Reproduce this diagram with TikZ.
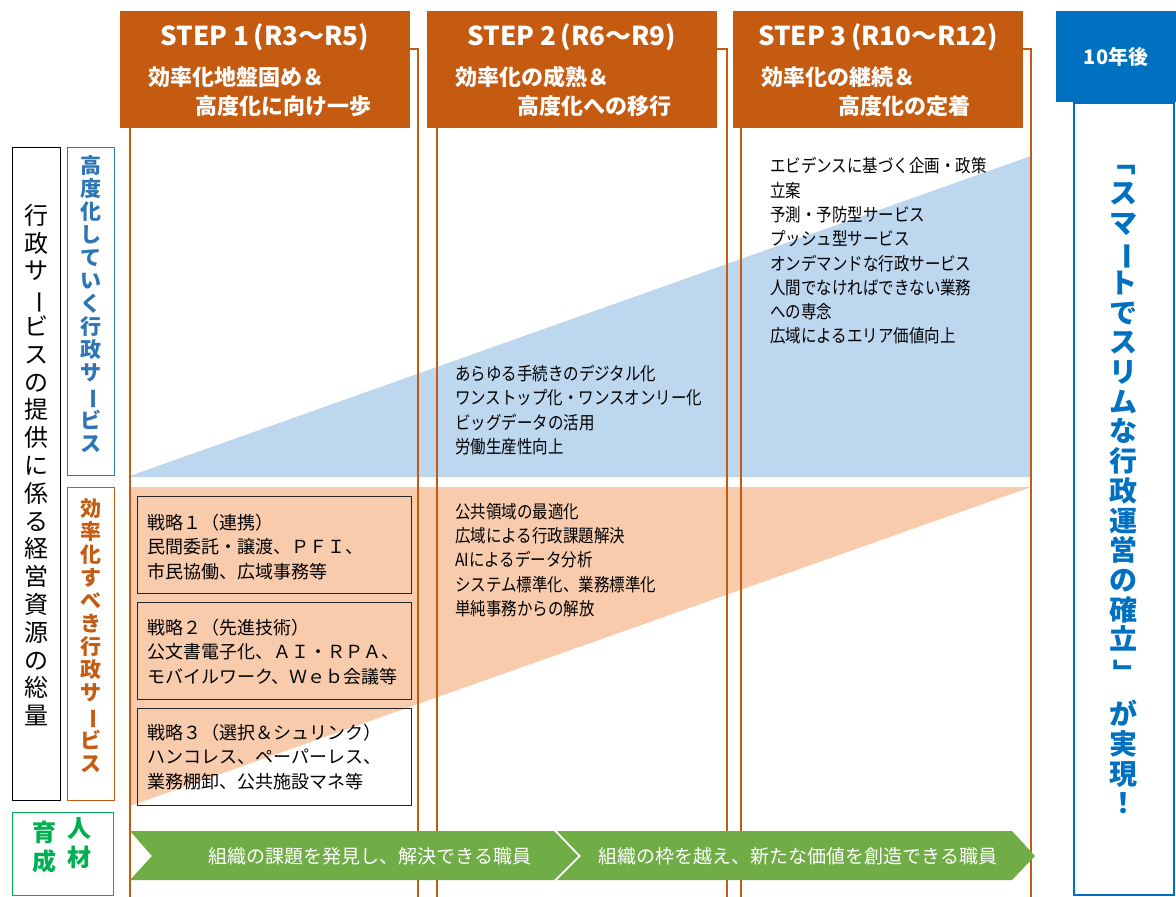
\documentclass[tikz,border=0pt]{standalone}
\usepackage{fontspec}
\usepackage{graphicx}
\setmainfont{Noto Sans CJK JP}
\newfontfamily\narrowjp{Noto Sans CJK JP}[FakeStretch=0.86]

\definecolor{steporange}{HTML}{C55A11}
\definecolor{lightorange}{HTML}{F8CBAD}
\definecolor{lightblue}{HTML}{BDD7EE}
\definecolor{midblue}{HTML}{2E75B6}
\definecolor{darkblue}{HTML}{0070C0}
\definecolor{arrowgreen}{HTML}{70AD47}
\definecolor{brightgreen}{HTML}{00B050}

% vertical forms for stacked text
\newcommand{\vbar}{\rotatebox[origin=c]{-90}{ー}}
\newcommand{\vopen}{\rotatebox[origin=c]{-90}{「}}
\newcommand{\vclose}{\rotatebox[origin=c]{-90}{」}}

\begin{document}
\begin{tikzpicture}[x=1pt,y=-1pt,
  stephead/.style={fill=steporange,minimum width=290,minimum height=117,anchor=north west,inner sep=0},
  steptitle/.style={text=white,font=\bfseries\fontsize{26}{28}\selectfont,inner sep=0},
  stepsub/.style={text=white,font=\bfseries\fontsize{22}{24}\selectfont,inner sep=0,anchor=west},
  sidebox/.style={draw=#1,line width=1.4,anchor=north west,inner sep=0},
  stratbox/.style={draw=black!85,line width=1.3,minimum width=274,minimum height=97,anchor=north west,inner sep=0},
  strattext/.style={align=left,anchor=west,inner sep=0,font=\fontsize{18}{24.5}\selectfont},
  itemtext/.style={align=left,anchor=west,inner sep=0,font=\narrowjp\fontsize{18}{24.3}\selectfont},
  bandtext/.style={text=white,inner sep=0,font=\fontsize{19}{21}\selectfont}]
\useasboundingbox (0,0) rectangle (1176,897);

% shaded areas
\fill[lightblue] (127,477) -- (1031,156) -- (1031,477) -- cycle;
\fill[lightorange] (130,487) -- (1031,487) -- (130,806) -- cycle;

% columns
\foreach \xl/\xr in {130/418, 437/727, 741/1031}
  \draw[steporange,line width=1.2] (\xl,897) -- (\xl,49) -- (\xr,49) -- (\xr,897);

% step headers
\node[stephead] (step1) at (120,11) {};
\node[stephead] (step2) at (427,11) {};
\node[stephead] (step3) at (733,11) {};
\node[steptitle] (title1) at (265,37) {STEP 1\,(R3～R5)};
\node[steptitle] (title2) at (572,37) {STEP 2\,(R6～R9)};
\node[steptitle] (title3) at (878,37) {STEP 3\,(R10～R12)};
\node[stepsub] (suba1) at (148,77) {効率化地盤固め＆};
\node[stepsub] (subb1) at (195,106) {高度化に向け一歩};
\node[stepsub] (suba2) at (455,77) {効率化の成熟＆};
\node[stepsub] (subb2) at (517,106) {高度化への移行};
\node[stepsub] (suba3) at (761,77) {効率化の継続＆};
\node[stepsub] (subb3) at (838,106) {高度化の定着};

% left side labels
\node[sidebox=black,minimum width=48,minimum height=653] (resbox) at (12,147) {};
\node[inner sep=0,align=center,font=\fontsize{24}{27.8}\selectfont] (restext) at (36,465)
  {行\\政\\サ\\\vbar\\ビ\\ス\\の\\提\\供\\に\\係\\る\\経\\営\\資\\源\\の\\総\\量};
\node[sidebox=midblue,minimum width=47,minimum height=328] (advbox) at (67,147) {};
\node[inner sep=0,align=center,text=midblue,font=\bfseries\fontsize{21}{23}\selectfont] (advtext) at (90.5,304)
  {高\\度\\化\\し\\て\\い\\く\\行\\政\\サ\\\vbar\\ビ\\ス};
\node[sidebox=steporange,minimum width=47,minimum height=313] (effbox) at (67,487) {};
\node[inner sep=0,align=center,text=steporange,font=\bfseries\fontsize{21}{23}\selectfont] (efftext) at (90.5,636)
  {効\\率\\化\\す\\べ\\き\\行\\政\\サ\\\vbar\\ビ\\ス};
\node[sidebox=brightgreen,minimum width=101,minimum height=83] (hrbox) at (12,812) {};
\node[inner sep=0,align=center,text=brightgreen,font=\bfseries\fontsize{24}{29}\selectfont] (hrleft) at (44,847) {育\\成};
\node[inner sep=0,align=center,text=brightgreen,font=\bfseries\fontsize{24}{29}\selectfont] (hrright) at (79,843) {人\\材};

% strategies
\node[stratbox] (strat1) at (137,496) {};
\node[stratbox] (strat2) at (137,602) {};
\node[stratbox] (strat3) at (137,708) {};
\node[strattext] (strattext1) at (147,547) {戦略１（連携）\\民間委託・譲渡、ＰＦＩ、\\市民協働、広域事務等};
\node[strattext] (strattext2) at (147,652) {戦略２（先進技術）\\公文書電子化、ＡＩ・ＲＰＡ、\\モバイルワーク、Ｗｅｂ会議等};
\node[strattext] (strattext3) at (147,757) {戦略３（選択＆シュリンク）\\ハンコレス、ペーパーレス、\\業務棚卸、公共施設マネ等};

% items
\node[itemtext] (adv2) at (455,410) {あらゆる手続きのデジタル化\\ワンストップ化・ワンスオンリー化\\ビッグデータの活用\\労働生産性向上};
\node[itemtext] (eff2) at (455,560) {公共領域の最適化\\広域による行政課題解決\\AIによるデータ分析\\システム標準化、業務標準化\\単純事務からの解放};
\node[itemtext] (adv3) at (770,251) {エビデンスに基づく企画・政策\\立案\\予測・予防型サービス\\プッシュ型サービス\\オンデマンドな行政サービス\\人間でなければできない業務\\への専念\\広域によるエリア価値向上};

% staff band
\fill[arrowgreen] (130,831) -- (554,831) -- (578,856) -- (554,880) -- (130,880) -- (152,856) -- cycle;
\fill[arrowgreen] (557,831) -- (1012,831) -- (1035,856) -- (1012,880) -- (557,880) -- (581,856) -- cycle;
\node[bandtext] (band1) at (370,856) {組織の課題を発見し、解決できる職員};
\node[bandtext] (band2) at (798,856) {組織の枠を越え、新たな価値を創造できる職員};

% goal
\node[fill=darkblue,minimum width=120,minimum height=91,anchor=north west,inner sep=0] (goalhead) at (1056,11) {};
\node[text=white,inner sep=0,font=\bfseries\fontsize{20}{22}\selectfont] (goaltitle) at (1116,57) {10年後};
\node[sidebox=darkblue,line width=1.6,minimum width=100,minimum height=792] (goalbox) at (1073,102) {};
\node[inner sep=0,align=center,text=darkblue,font=\bfseries\fontsize{28}{29.7}\selectfont] (goaltext) at (1123,481)
  {\vopen\\ス\\マ\\\vbar\\ト\\で\\ス\\リ\\ム\\な\\行\\政\\運\\営\\の\\確\\立\\\vclose\\[12pt]が\\実\\現\\！};
\end{tikzpicture}
\end{document}
